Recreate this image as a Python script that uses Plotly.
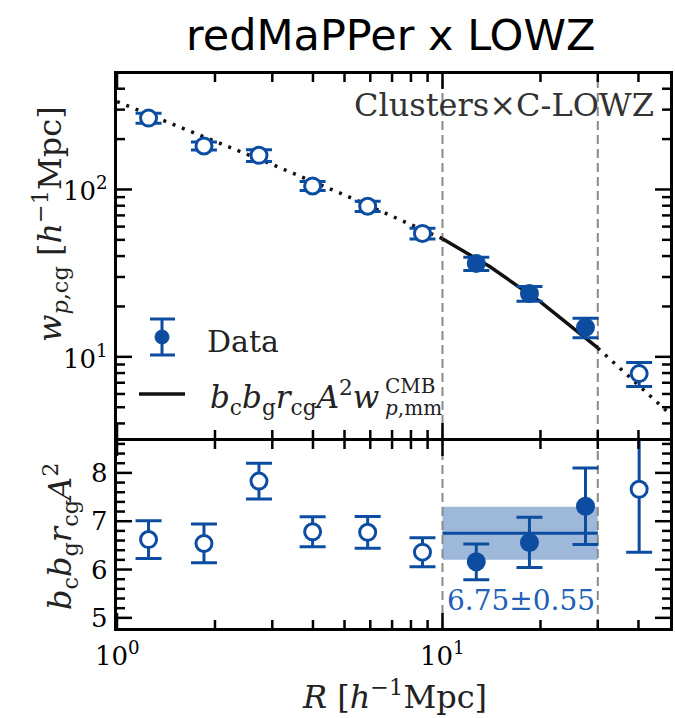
import numpy as np
import plotly.graph_objects as go

# ---------------- data ----------------
R = [1.25, 1.85, 2.73, 3.99, 5.89, 8.68, 12.7, 18.5, 27.5, 40.2]
wp = [267, 182, 160, 105, 79.4, 54.6, 36.1, 23.9, 15.0, 7.94]
wp_err = [18, 10, 13, 6.5, 5.5, 4.0, 3.3, 2.4, 2.0, 1.3]
amp = [6.62, 6.54, 7.83, 6.78, 6.77, 6.36, 6.16, 6.56, 7.31, 7.66]
amp_err = [0.39, 0.40, 0.37, 0.31, 0.33, 0.30, 0.37, 0.52, 0.79, 1.30]
in_fit = [False, False, False, False, False, False, True, True, True, False]

R_model = [1, 2, 3, 5, 7, 10, 14, 20, 30, 40, 50]
w_model = [335, 195, 141, 92.7, 69, 50.8, 34.5, 21.3, 11.3, 6.8, 4.55]

fit_mean, fit_err = 6.75, 0.55
fit_rmin, fit_rmax = 10, 30

# tick positions and labels
x_major = [1, 10]
x_major_text = ["10<sup>0</sup>", "10<sup>1</sup>"]
x_minor = [2, 3, 4, 5, 6, 7, 8, 9, 20, 30, 40]
y_major = [10, 100]
y_major_text = ["10<sup>1</sup>", "10<sup>2</sup>"]
y_minor = [4, 5, 6, 7, 8, 9, 20, 30, 40, 50, 60, 70, 80, 90, 200, 300, 400]
a_major = [5, 6, 7, 8]
a_major_text = ["5", "6", "7", "8"]
a_minor = [5.2, 5.4, 5.6, 5.8, 6.2, 6.4, 6.6, 6.8, 7.2, 7.4, 7.6, 7.8, 8.2, 8.4, 8.6]

BLUE = "#0D4DA1"
SERIF = "DejaVu Serif"

# ---------------- geometry helpers ----------------
W, H = 675, 718
ML, MR, MT, MB = 117, 5, 74, 90
PW, PH = W - ML - MR, H - MT - MB
def px(x):
    return (x - ML) / PW
def py(y):
    return (H - MB - y) / PH
top_dom = [py(438), 1]
bot_dom = [0, py(441)]
x_range = [0, np.log10(50)]
y_range = [0.515, 2.69]
a_range = [4.79, 8.66]

fig = go.Figure()

R_a = np.array(R); wp_a = np.array(wp); we_a = np.array(wp_err)
amp_a = np.array(amp); ae_a = np.array(amp_err); fit_a = np.array(in_fit)
Rm = np.array(R_model); wm = np.array(w_model)

# fit-range dashed lines
for xv in (fit_rmin, fit_rmax):
    fig.add_trace(go.Scatter(x=[xv, xv], y=[10 ** y_range[0], 10 ** y_range[1]], mode="lines",
                             line=dict(color="#8a8a8a", width=2, dash="9px,5px"),
                             xaxis="x", yaxis="y", showlegend=False, hoverinfo="skip"))

# model line: dotted outside fit range, solid inside
seg_lo = Rm <= fit_rmin
seg_mid = (Rm >= fit_rmin) & (Rm <= fit_rmax)
seg_hi = Rm >= fit_rmax
for mask, dash in [(seg_lo, "3px,7px"), (seg_mid, "solid"), (seg_hi, "3px,7px")]:
    fig.add_trace(go.Scatter(x=Rm[mask], y=wm[mask], mode="lines",
                             line=dict(color="#111111", width=3.5, dash=dash),
                             xaxis="x", yaxis="y", showlegend=False, hoverinfo="skip"))

# band + mean in lower panel
fig.add_trace(go.Scatter(x=[fit_rmin, fit_rmax, fit_rmax, fit_rmin, fit_rmin],
                         y=[fit_mean - fit_err, fit_mean - fit_err, fit_mean + fit_err,
                            fit_mean + fit_err, fit_mean - fit_err],
                         mode="lines", fill="toself", fillcolor="rgba(13,77,161,0.40)",
                         line=dict(width=0), xaxis="x2", yaxis="y2", showlegend=False,
                         hoverinfo="skip"))
for xv in (fit_rmin, fit_rmax):
    fig.add_trace(go.Scatter(x=[xv, xv], y=a_range, mode="lines",
                             line=dict(color="#8a8a8a", width=2, dash="9px,5px"),
                             xaxis="x2", yaxis="y2", showlegend=False, hoverinfo="skip"))
fig.add_trace(go.Scatter(x=[fit_rmin, fit_rmax], y=[fit_mean, fit_mean], mode="lines",
                         line=dict(color=BLUE, width=3), xaxis="x2", yaxis="y2",
                         showlegend=False, hoverinfo="skip"))

def pts(xv, yv, ev, filled, xa, ya):
    return go.Scatter(
        x=xv, y=yv, mode="markers",
        marker=dict(size=16, symbol="circle",
                    color=BLUE if filled else "white",
                    line=dict(color=BLUE, width=3)),
        error_y=dict(type="data", array=ev, color=BLUE, thickness=3, width=13, visible=True),
        xaxis=xa, yaxis=ya, showlegend=False, hoverinfo="skip")

fig.add_trace(pts(R_a[~fit_a], wp_a[~fit_a], we_a[~fit_a], False, "x", "y"))
fig.add_trace(pts(R_a[fit_a], wp_a[fit_a], we_a[fit_a], True, "x", "y"))
fig.add_trace(pts(R_a[~fit_a], amp_a[~fit_a], ae_a[~fit_a], False, "x2", "y2"))
fig.add_trace(pts(R_a[fit_a], amp_a[fit_a], ae_a[fit_a], True, "x2", "y2"))

# ---------------- axes (frame lines; ticks drawn below from the same ranges) ----------------
common = dict(showline=True, linecolor="black", linewidth=3, mirror=True, ticks="",
              showgrid=False, zeroline=False, showticklabels=False)

fig.update_layout(
    width=W, height=H, margin=dict(l=ML, r=MR, t=MT, b=MB, autoexpand=False),
    paper_bgcolor="white", plot_bgcolor="white", showlegend=False,
    xaxis=dict(domain=[0, 1], anchor="y", type="log", range=x_range, **common),
    xaxis2=dict(domain=[0, 1], anchor="y2", type="log", range=x_range, **common),
    yaxis=dict(domain=top_dom, anchor="x", type="log", range=y_range, **common),
    yaxis2=dict(domain=bot_dom, anchor="x2", range=a_range, **common),
)

# ---------------- inward ticks on every edge, positioned from the axis ranges ----------------
MAJ, MIN, TW = 15, 8, 2.5
def xfrac(v):
    return (np.log10(v) - x_range[0]) / (x_range[1] - x_range[0])
def ytop(v):
    return top_dom[0] + (np.log10(v) - y_range[0]) / (y_range[1] - y_range[0]) * (top_dom[1] - top_dom[0])
def ybot(v):
    return bot_dom[0] + (v - a_range[0]) / (a_range[1] - a_range[0]) * (bot_dom[1] - bot_dom[0])

shapes = []
def tick(x0, y0, x1, y1):
    shapes.append(dict(type="line", xref="paper", yref="paper", x0=x0, y0=y0, x1=x1, y1=y1,
                       line=dict(color="black", width=TW), layer="above"))

x_edges = [(top_dom[0], +1), (top_dom[1], -1), (bot_dom[0], +1), (bot_dom[1], -1)]
for vals, ln in [(x_major, MAJ), (x_minor, MIN)]:
    for v in vals:
        xf = xfrac(v)
        for ye, sgn in x_edges:
            tick(xf, ye, xf, ye + sgn * ln / PH)
for vals, ln, fn in [(y_major, MAJ, ytop), (y_minor, MIN, ytop),
                     (a_major, MAJ, ybot), (a_minor, MIN, ybot)]:
    for v in vals:
        yf = fn(v)
        tick(0, yf, ln / PW, yf)
        tick(1, yf, 1 - ln / PW, yf)

# tick labels
tfont = dict(family=SERIF, size=26, color="black")
for v, t in zip(x_major, x_major_text):
    fig.add_annotation(x=xfrac(v), y=0, xref="paper", yref="paper", text=t, showarrow=False,
                       xanchor="center", yanchor="top", yshift=-7, font=tfont)
for v, t in zip(y_major, y_major_text):
    fig.add_annotation(x=0, y=ytop(v), xref="paper", yref="paper", text=t, showarrow=False,
                       xanchor="right", yanchor="middle", xshift=-7, font=tfont)
for v, t in zip(a_major, a_major_text):
    fig.add_annotation(x=0, y=ybot(v), xref="paper", yref="paper", text=t, showarrow=False,
                       xanchor="right", yanchor="middle", xshift=-7, font=tfont)

# ---------------- manual legend ----------------
shapes += [
    dict(type="line", xref="paper", yref="paper", x0=px(162), x1=px(162), y0=py(319), y1=py(355),
         line=dict(color=BLUE, width=3)),
    dict(type="line", xref="paper", yref="paper", x0=px(150), x1=px(175), y0=py(319), y1=py(319),
         line=dict(color=BLUE, width=3)),
    dict(type="line", xref="paper", yref="paper", x0=px(150), x1=px(175), y0=py(355), y1=py(355),
         line=dict(color=BLUE, width=3)),
    dict(type="circle", xref="paper", yref="paper", x0=px(155), x1=px(169), y0=py(330), y1=py(344),
         fillcolor=BLUE, line=dict(color=BLUE, width=1)),
    dict(type="line", xref="paper", yref="paper", x0=px(139), x1=px(185), y0=py(394), y1=py(394),
         line=dict(color="#111111", width=3.5)),
]
fig.update_layout(shapes=shapes)

def ann(x, y, text, size, color="black", xanchor="center", yanchor="middle", family=SERIF, angle=0):
    fig.add_annotation(x=px(x), y=py(y), xref="paper", yref="paper", text=text, showarrow=False,
                       xanchor=xanchor, yanchor=yanchor, textangle=angle,
                       font=dict(family=family, size=size, color=color))

ann(390, 35, "redMaPPer x LOWZ", 43, family="DejaVu Sans")
ann(656, 105, "Clusters×C-LOWZ", 32, color="#333333", xanchor="right")
ann(205, 341, "Data", 30, color="#222222", xanchor="left")
ann(381, 397, "<i>b</i><sub>c</sub><i>b</i><sub>g</sub><i>r</i><sub>cg</sub><i>A</i><sup>2</sup><i>w</i>",
    31, color="#222222", xanchor="right")
ann(383, 386, "CMB", 20, color="#222222", xanchor="left")
ann(383, 408, "<i>p</i>,mm", 20, color="#222222", xanchor="left")
ann(521, 600, f"{fit_mean:.2f}±{fit_err:.2f}", 28, color="#1F5FB8")
ann(394, 695, "<i>R</i> [<i>h</i><sup>−1</sup>Mpc]", 32, color="#222222")
ann(50, 224, "<i>w</i><sub><i>p</i>,cg</sub> [<i>h</i><sup>−1</sup>Mpc]", 32, color="#222222", angle=-90)
ann(60, 537, "<i>b</i><sub>c</sub><i>b</i><sub>g</sub><i>r</i><sub>cg</sub><i>A</i><sup>2</sup>",
    32, color="#222222", angle=-90)

fig.write_html("out.html")
